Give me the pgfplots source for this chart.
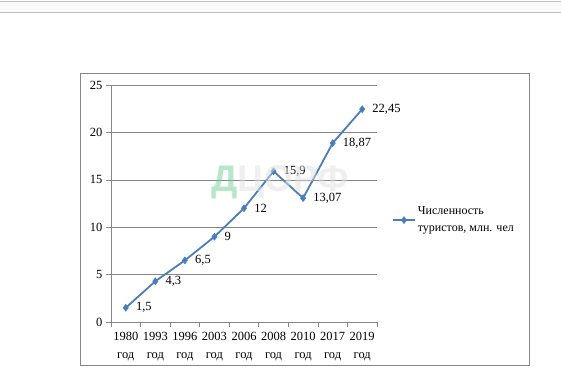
\documentclass[border=0pt]{standalone}
\usepackage{fontspec}
\setmainfont{Liberation Serif}
\newfontfamily\wmfont{Liberation Sans}
\usepackage{pgfplots}
\usepackage{pgfplotstable}
\pgfplotsset{compat=1.18}
\definecolor{ser}{HTML}{4A7EBB}
\definecolor{ax}{HTML}{868686}
\pgfplotstableread{
x y lab
0 1.5 1,5
1 4.3 4,3
2 6.5 6,5
3 9 9
4 12 12
5 15.9 15,9
6 13.07 13,07
7 18.87 18,87
8 22.45 22,45
}\data
\begin{document}
\begin{tikzpicture}[x=1bp,y=1bp]
\useasboundingbox (0,0) rectangle (561,369);
\fill[white] (0,0) rectangle (561,369);
\fill[black!2] (0,357) rectangle (561,368);
\draw[black!25] (0,368) -- (561,368);
\draw[black!25] (0,357) -- (561,357);
\draw[ax,line width=0.8bp] (80,4) rectangle (529,296);
\begin{axis}[
  at={(111bp,47bp)}, anchor=south west,
  scale only axis, width=266bp, height=237bp,
  xmin=-0.5, xmax=8.5, ymin=0, ymax=25,
  ytick={0,5,...,25},
  xtick={0,...,8},
  xticklabels={1980\\год,1993\\год,1996\\год,2003\\год,2006\\год,2008\\год,2010\\год,2017\\год,2019\\год},
  minor xtick={-0.5,0.5,...,8.5},
  major x tick style={draw=none},
  tick align=outside,
  major tick length=5bp, minor tick length=5bp,
  tick style={ax, line width=0.6bp},
  axis x line*=bottom, axis y line*=left,
  axis line style={ax, line width=0.8bp, -},
  ymajorgrids, grid style={ax, line width=0.6bp},
  xticklabel style={align=center, font=\fontsize{12.5bp}{18bp}\selectfont, yshift=-2bp},
  yticklabel style={font=\fontsize{12.5bp}{14bp}\selectfont},
  /pgf/number format/assume math mode=true,
  legend style={at={(1.056,0.43)}, anchor=west, draw=none, fill=none, inner sep=0pt,
    font=\fontsize{12bp}{17bp}\selectfont, cells={anchor=west, align=left, inner xsep=1bp}},
  legend image code/.code={\draw[mark repeat=2, mark phase=2] plot coordinates {(0bp,0bp) (11bp,0bp) (22bp,0bp)};},
  clip=false,
]
\addplot[ser, line width=1.8bp, mark=diamond*, mark size=3.5bp, mark options={solid, fill=ser, line width=0.5bp},
  nodes near coords, point meta=explicit symbolic,
  nodes near coords style={anchor=west, inner sep=0pt, xshift=10bp, text=black, font=\fontsize{12.5bp}{14bp}\selectfont}]
  table[x=x, y=y, meta=lab] {\data};
\addlegendentry{Численность\\туристов, млн. чел}
\end{axis}
\node[font=\wmfont\bfseries\fontsize{37bp}{37bp}\selectfont, text opacity=0.5, inner sep=0pt] at (280,187)
  {\textcolor[HTML]{70D095}{Д}\textcolor[HTML]{E0E0E0}{ЦОРФ}};
\end{tikzpicture}
\end{document}
